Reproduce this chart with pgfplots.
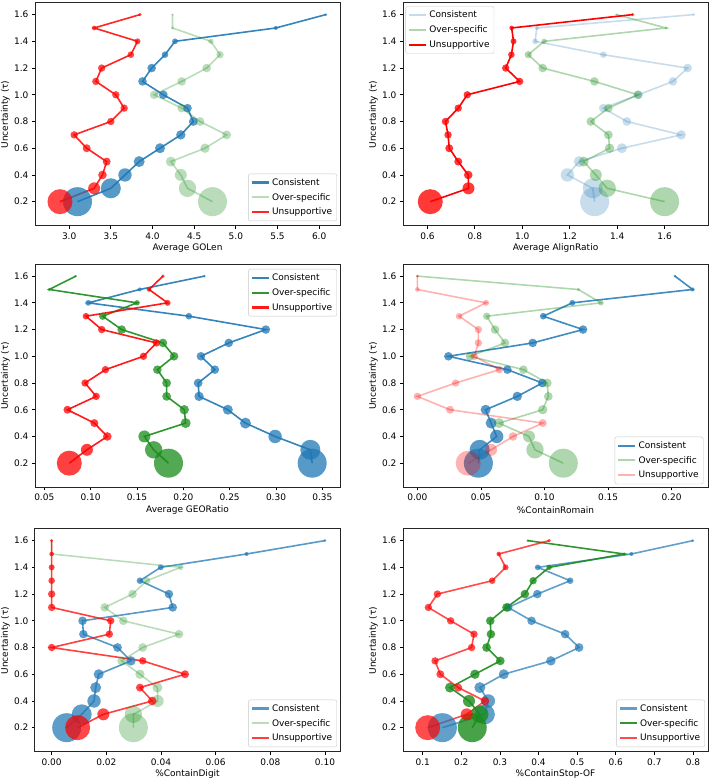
\documentclass[border=0pt]{standalone}
\usepackage{fontspec}
\setmainfont{DejaVu Sans}
\usepackage{pgfplots}
\usepackage{pgfplotstable}
\pgfplotsset{compat=1.18}

\definecolor{cC}{HTML}{1F77B4}
\definecolor{cO}{HTML}{1A8C1A}
\definecolor{cU}{HTML}{FF0000}

% marker radii (pt) per uncertainty level
\pgfplotstableread{
t   sc   so   su
0.2 14.5 14.5 12.5
0.3 10.0 8.7  6.0
0.4 6.7  6.0  4.3
0.5 5.5  5.0  4.0
0.6 5.0  4.7  4.0
0.7 4.7  4.4  3.7
0.8 4.4  4.4  3.7
0.9 4.3  4.3  3.7
1.0 4.3  4.3  3.7
1.1 4.3  4.3  3.7
1.2 4.3  4.3  3.7
1.3 3.3  3.7  3.3
1.4 2.9  2.7  3.0
1.5 2.0  1.7  2.3
1.6 1.4  1.3  1.7
}\sizes

\pgfplotstableread{
t   c     o     u
0.2 3.10  4.72  2.89
0.3 3.50  4.42  3.30
0.4 3.67  4.34  3.40
0.5 3.84  4.22  3.45
0.6 4.09  4.63  3.21
0.7 4.34  4.89  3.06
0.8 4.49  4.57  3.50
0.9 4.42  4.35  3.66
1.0 4.13  4.02  3.56
1.1 3.88  4.35  3.32
1.2 3.99  4.65  3.39
1.3 4.15  4.81  3.74
1.4 4.27  4.70  3.82
1.5 5.48  4.24  3.30
1.6 6.08  4.24  3.85
}\tA

\pgfplotstableread{
t   c     o     u
0.2 1.305 1.600 0.612
0.3 1.297 1.358 0.773
0.4 1.190 1.310 0.772
0.5 1.240 1.259 0.730
0.6 1.420 1.368 0.692
0.7 1.670 1.363 0.687
0.8 1.441 1.289 0.676
0.9 1.341 1.363 0.730
1.0 1.490 1.487 0.768
1.1 1.635 1.304 0.989
1.2 1.697 1.086 0.930
1.3 1.342 1.025 0.954
1.4 1.054 1.092 0.963
1.5 1.061 1.606 0.955
1.6 1.722 1.397 1.465
}\tB

\pgfplotstableread{
t   c      o      u
0.2 0.339  0.184  0.077
0.3 0.337  0.168  0.096
0.4 0.299  0.158  0.118
0.5 0.267  0.2025 0.104
0.6 0.248  0.201  0.075
0.7 0.217  0.182  0.106
0.8 0.216  0.182  0.094
0.9 0.234  0.172  0.116
1.0 0.219  0.190  0.157
1.1 0.249  0.178  0.171
1.2 0.289  0.1335 0.112
1.3 0.206  0.113  0.095
1.4 0.0975 0.150  0.183
1.5 0.153  0.0554 0.163
1.6 0.2227 0.084  0.178
}\tC

\pgfplotstableread{
t   c      o      u
0.2 0.048  0.1148 0.040
0.3 0.049  0.0925 0.058
0.4 0.0624 0.0878 0.0752
0.5 0.058  0.0642 0.0986
0.6 0.0537 0.0986 0.0257
0.7 0.0786 0.103  0.0
0.8 0.0983 0.1022 0.0301
0.9 0.0708 0.0834 0.0645
1.0 0.0244 0.0414 0.0448
1.1 0.0907 0.0689 0.048
1.2 0.1303 0.0611 0.048
1.3 0.099  0.0545 0.0328
1.4 0.1219 0.1444 0.054
1.5 0.2165 0.1266 0.0
1.6 0.2026 0.0    0.0
}\tD

\pgfplotstableread{
t   c      o      u
0.2 0.0055 0.0299 0.0095
0.3 0.011  0.0299 0.0189
0.4 0.0155 0.0388 0.0368
0.5 0.0161 0.0387 0.0323
0.6 0.0172 0.0323 0.0488
0.7 0.029  0.0256 0.0333
0.8 0.0241 0.0333 0.0
0.9 0.0116 0.0466 0.0211
1.0 0.0113 0.0262 0.0216
1.1 0.0443 0.0194 0.0
1.2 0.0429 0.0296 0.0
1.3 0.0323 0.0348 0.0
1.4 0.0399 0.0472 0.0
1.5 0.0713 0.0    0.0
1.6 0.1    0.0    0.0
}\tE

\pgfplotstableread{
t   c      o      u
0.2 0.151  0.2284 0.113
0.3 0.261  0.248  0.214
0.4 0.270  0.220  0.261
0.5 0.248  0.1707 0.192
0.6 0.310  0.2353 0.1457
0.7 0.432  0.3009 0.132
0.8 0.505  0.2655 0.2267
0.9 0.469  0.2767 0.2328
1.0 0.382  0.275  0.1724
1.1 0.3216 0.317  0.1147
1.2 0.397  0.3647 0.138
1.3 0.482  0.386  0.28
1.4 0.398  0.4276 0.3147
1.5 0.6405 0.6216 0.297
1.6 0.8    0.3724 0.4276
}\tF

\newcommand\addsizes[1]{%
  \pgfplotstablecreatecol[copy column from table={\sizes}{sc}]{sc}{#1}%
  \pgfplotstablecreatecol[copy column from table={\sizes}{so}]{so}{#1}%
  \pgfplotstablecreatecol[copy column from table={\sizes}{su}]{su}{#1}}
\addsizes\tA \addsizes\tB \addsizes\tC \addsizes\tD \addsizes\tE \addsizes\tF

\newcommand\fs{\fontsize{9}{10.5}\selectfont}

\pgfplotsset{panel/.style={
  scale only axis, width=305pt, height=223pt,
  ymin=0.018, ymax=1.687,
  ytick={0.2,0.4,0.6,0.8,1.0,1.2,1.4,1.6},
  yticklabel style={/pgf/number format/.cd,fixed,fixed zerofill,precision=1},
  ylabel={Uncertainty (τ)},
  tick pos=left, tick align=outside, major tick length=3pt,
  every tick/.style={black, line width=0.8pt},
  axis line style={line width=1pt, black!85},
  tick label style={font=\fs},
  label style={font=\fs},
  /pgf/number format/assume math mode=true,
  xlabel style={at={(axis description cs:0.5,-0.1)}, anchor=center},
  ylabel style={at={(axis description cs:-0.097,0.5)}, anchor=center},
  legend style={font=\fs, draw=black!22, rounded corners=2pt, fill=white,
    fill opacity=0.8, text opacity=1, inner sep=2.5pt, row sep=2.5pt,
    cells={anchor=west}},
  legend image post style={line width=2.1pt},
  legend entries={Consistent, Over-specific, Unsupportive},
}}

\newcommand\series[6]{%
  \addplot[color=#4, draw opacity=#5, line width=1.6pt, no marks] table[x=#2,y=t]{#1};
  \addplot[forget plot, scatter, only marks, mark=*,
    scatter/use mapped color={draw=#4,draw opacity=0,fill=#4,fill opacity=#6},
    visualization depends on={\thisrow{#3}\as\msz},
    scatter/@pre marker code/.append style={/tikz/mark size=\msz}]
    table[x=#2,y=t]{#1};
}

\begin{document}
\begin{tikzpicture}
\path[use as bounding box] (0pt,0pt) rectangle (712pt,778pt);

\begin{axis}[panel, at={(35pt,552pt)}, anchor=south west,
  xmin=2.59, xmax=6.25, xtick={3,3.5,4,4.5,5,5.5,6},
  xticklabel style={/pgf/number format/.cd,fixed,fixed zerofill,precision=1},
  xlabel={Average GOLen},
  legend style={at={(0.99,0.022)}, anchor=south east}]
\series{\tA}{c}{sc}{cC}{0.9}{0.75}
\series{\tA}{o}{so}{cO}{0.3}{0.3}
\series{\tA}{u}{su}{cU}{0.85}{0.72}
\end{axis}

\begin{axis}[panel, at={(403pt,552pt)}, anchor=south west,
  xmin=0.497, xmax=1.783, xtick={0.6,0.8,1.0,1.2,1.4,1.6},
  xticklabel style={/pgf/number format/.cd,fixed,fixed zerofill,precision=1},
  xlabel={Average AlignRatio},
  legend style={at={(0.008,0.985)}, anchor=north west}]
\series{\tB}{c}{sc}{cC}{0.25}{0.25}
\series{\tB}{o}{so}{cO}{0.35}{0.35}
\series{\tB}{u}{su}{cU}{1}{0.78}
\end{axis}

\begin{axis}[panel, at={(35pt,290.5pt)}, anchor=south west,
  xmin=0.04, xmax=0.369, xtick={0.05,0.1,0.15,0.2,0.25,0.3,0.35},
  xticklabel style={/pgf/number format/.cd,fixed,fixed zerofill,precision=2},
  xlabel={Average GEORatio},
  legend style={at={(0.99,0.98)}, anchor=north east}]
\series{\tC}{c}{sc}{cC}{0.9}{0.75}
\series{\tC}{o}{so}{cO}{0.9}{0.75}
\series{\tC}{u}{su}{cU}{0.9}{0.75}
\end{axis}

\begin{axis}[panel, at={(403pt,290.5pt)}, anchor=south west,
  xmin=-0.0113, xmax=0.2286, xtick={0,0.05,0.1,0.15,0.2},
  xticklabel style={/pgf/number format/.cd,fixed,fixed zerofill,precision=2},
  xlabel={\%ContainRomain},
  legend style={at={(0.985,0.015)}, anchor=south east}]
\series{\tD}{c}{sc}{cC}{0.85}{0.75}
\series{\tD}{o}{so}{cO}{0.35}{0.35}
\series{\tD}{u}{su}{cU}{0.3}{0.3}
\end{axis}

\begin{axis}[panel, at={(35pt,26pt)}, anchor=south west,
  xmin=-0.0061, xmax=0.1055, xtick={0,0.02,0.04,0.06,0.08,0.1},
  xticklabel style={/pgf/number format/.cd,fixed,fixed zerofill,precision=2},
  xlabel={\%ContainDigit},
  legend style={at={(0.99,0.022)}, anchor=south east}]
\series{\tE}{c}{sc}{cC}{0.75}{0.72}
\series{\tE}{o}{so}{cO}{0.3}{0.3}
\series{\tE}{u}{su}{cU}{0.75}{0.72}
\end{axis}

\begin{axis}[panel, at={(403pt,26pt)}, anchor=south west,
  xmin=0.049, xmax=0.839, xtick={0.1,0.2,0.3,0.4,0.5,0.6,0.7,0.8},
  xticklabel style={/pgf/number format/.cd,fixed,fixed zerofill,precision=1},
  xlabel={\%ContainStop-OF},
  legend style={at={(0.99,0.022)}, anchor=south east}]
\series{\tF}{c}{sc}{cC}{0.7}{0.7}
\series{\tF}{o}{so}{cO}{0.9}{0.8}
\series{\tF}{u}{su}{cU}{0.7}{0.7}
\end{axis}
\end{tikzpicture}
\end{document}
